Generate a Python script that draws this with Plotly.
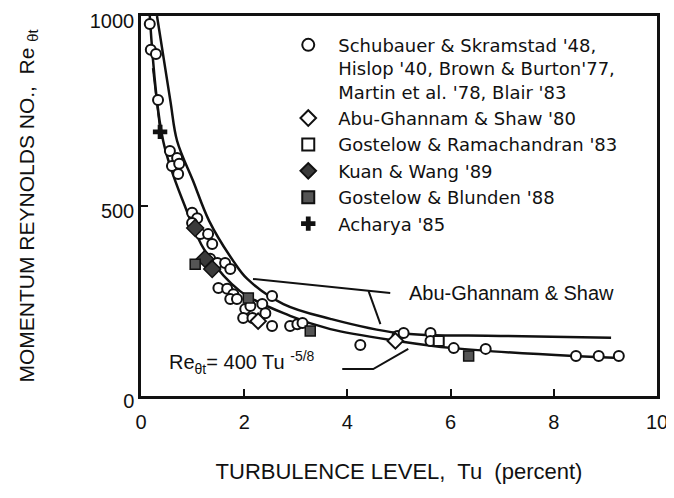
import plotly.graph_objects as go

# ---- data (Tu in percent, Re_theta_t) ----
circ_tu = [0.17, 0.19, 0.29, 0.33, 0.56, 0.70, 0.60, 0.74, 0.72, 0.99, 1.09, 0.99, 1.15, 1.30, 1.38,
           1.34, 1.48, 1.63, 1.73, 1.50, 1.67, 1.79, 1.73, 1.86, 2.02, 2.12, 2.35, 2.54, 2.41, 1.98,
           2.16, 2.54, 2.89, 3.03, 3.13, 4.25, 4.97, 5.09, 5.61, 5.61, 6.06, 6.68, 8.43, 8.87, 9.26]
circ_re = [979, 911, 900, 779, 645, 626, 605, 611, 584, 482, 468, 455, 426, 426, 400,
           361, 350, 350, 334, 284, 282, 268, 255, 255, 229, 237, 242, 263, 218, 205,
           205, 184, 184, 189, 192, 134, 158, 166, 166, 145, 126, 124, 105, 105, 105]

abu_tu = [2.27, 4.93]
abu_re = [197, 145]

gr_tu = [5.77]
gr_re = [145]

kw_tu = [1.05, 1.24, 1.38]
kw_re = [442, 361, 334]

gb_tu = [1.05, 2.08, 3.28, 6.35]
gb_re = [347, 258, 171, 105]

ach_tu = [0.37]
ach_re = [695]
ach_line_tu = [0.23, 0.37]
ach_line_re = [863, 700]

# Abu-Ghannam & Shaw correlation curve
ags_tu = [0.31, 0.57, 0.70, 1.01, 1.32, 1.79, 2.06, 2.76, 3.67, 4.97, 6.97, 9.11]
ags_re = [1000, 776, 671, 566, 461, 355, 308, 242, 203, 166, 158, 153]

# Re = 400 Tu^-5/8 curve
pw_tu = [0.17, 0.43, 0.85, 1.24, 1.92, 2.89, 3.67, 4.97, 6.06, 8.39, 9.30]
pw_re = [1000, 671, 500, 382, 276, 211, 176, 145, 126, 105, 100]

# pointer lines for the curve labels
ptr1_tu = [2.17, 4.83]
ptr1_re = [308, 271]
ptr1b_tu = [4.41, 4.64]
ptr1b_re = [276, 189]
ptr2_tu = [3.90, 4.50, 5.18]
ptr2_re = [71, 71, 124]

x_ticks = [0, 2, 4, 6, 8, 10]
y_ticks = [0, 500, 1000]

FONT = "Liberation Sans, Arial, sans-serif"
LEG_FONT = "DejaVu Sans, Liberation Sans, sans-serif"
BLACK = "#111111"

fig = go.Figure()

line_style = dict(color=BLACK, width=2.5)
fig.add_trace(go.Scatter(x=ags_tu, y=ags_re, mode="lines", line=dict(shape="spline", **line_style),
                         showlegend=False, hoverinfo="skip"))
fig.add_trace(go.Scatter(x=pw_tu, y=pw_re, mode="lines", line=dict(shape="spline", **line_style),
                         showlegend=False, hoverinfo="skip"))
for tx, ty in [(ptr1_tu, ptr1_re), (ptr1b_tu, ptr1b_re), (ptr2_tu, ptr2_re), (ach_line_tu, ach_line_re)]:
    fig.add_trace(go.Scatter(x=tx, y=ty, mode="lines", line=dict(color=BLACK, width=2),
                             showlegend=False, hoverinfo="skip"))

fig.add_trace(go.Scatter(
    x=circ_tu, y=circ_re, mode="markers",
    name="Schubauer & Skramstad '48,<br>Hislop '40, Brown & Burton'77,<br>Martin et al. '78, Blair '83",
    marker=dict(symbol="circle", size=10, color="white", line=dict(color=BLACK, width=2))))
fig.add_trace(go.Scatter(
    x=abu_tu, y=abu_re, mode="markers", name="Abu-Ghannam & Shaw '80",
    marker=dict(symbol="diamond", size=12, color="white", line=dict(color=BLACK, width=2))))
fig.add_trace(go.Scatter(
    x=gr_tu, y=gr_re, mode="markers", name="Gostelow & Ramachandran '83",
    marker=dict(symbol="square", size=10, color="white", line=dict(color=BLACK, width=2))))
fig.add_trace(go.Scatter(
    x=kw_tu, y=kw_re, mode="markers", name="Kuan & Wang '89",
    marker=dict(symbol="diamond", size=13, color="#3a3a3a", line=dict(color=BLACK, width=1.5))))
fig.add_trace(go.Scatter(
    x=gb_tu, y=gb_re, mode="markers", name="Gostelow & Blunden '88",
    marker=dict(symbol="square", size=10, color="#555555", line=dict(color=BLACK, width=1.5))))
fig.add_trace(go.Scatter(
    x=ach_tu, y=ach_re, mode="markers", name="Acharya '85",
    marker=dict(symbol="cross", size=12, color=BLACK, line=dict(color=BLACK, width=0))))

fig.add_annotation(x=5.15, y=271, xref="x", yref="y", text="Abu-Ghannam & Shaw",
                   showarrow=False, xanchor="left", yanchor="middle",
                   font=dict(family=FONT, size=20, color=BLACK))
fig.add_annotation(x=0.5, y=87, xref="x", yref="y",
                   text="Re<sub>θt</sub>= 400 Tu <sup>-5/8</sup>",
                   showarrow=False, xanchor="left", yanchor="middle",
                   font=dict(family=FONT, size=20, color=BLACK))

# the page body adds an 8px margin, so the figure is sized to fill the rest of the window
fig.update_layout(
    width=666, height=490,
    margin=dict(l=133, r=17, t=8, b=102),
    paper_bgcolor="white", plot_bgcolor="white",
    font=dict(family=FONT, size=20, color=BLACK),
    legend=dict(x=0.266, y=0.972, xanchor="left", yanchor="top", bgcolor="rgba(0,0,0,0)",
                font=dict(family=LEG_FONT, size=18, color=BLACK), tracegroupgap=0,
                itemsizing="constant", valign="top", itemwidth=50),
    xaxis=dict(range=[0, 10], tickvals=x_ticks, ticks="inside", ticklen=7, tickwidth=2,
               tickcolor=BLACK, showline=True, mirror=True, linewidth=2.5, linecolor=BLACK,
               showgrid=False, zeroline=False, tickfont=dict(size=20), automargin=False,
               ticklabelstandoff=6, ticklabeloverflow="allow",
               title=dict(text="TURBULENCE LEVEL,  Tu  (percent)", font=dict(size=22), standoff=32)),
    yaxis=dict(range=[0, 1000], tickvals=y_ticks, ticks="inside", ticklen=7, tickwidth=2,
               tickcolor=BLACK, showline=True, mirror=True, linewidth=2.5, linecolor=BLACK,
               showgrid=False, zeroline=False, tickfont=dict(size=20), automargin=False,
               ticklabeloverflow="allow", ticklabelshift=5,
               title=dict(text="MOMENTUM REYNOLDS NO.,  Re <sub>θt</sub>", font=dict(size=21), standoff=50)),
)

fig.write_html("out.html")
